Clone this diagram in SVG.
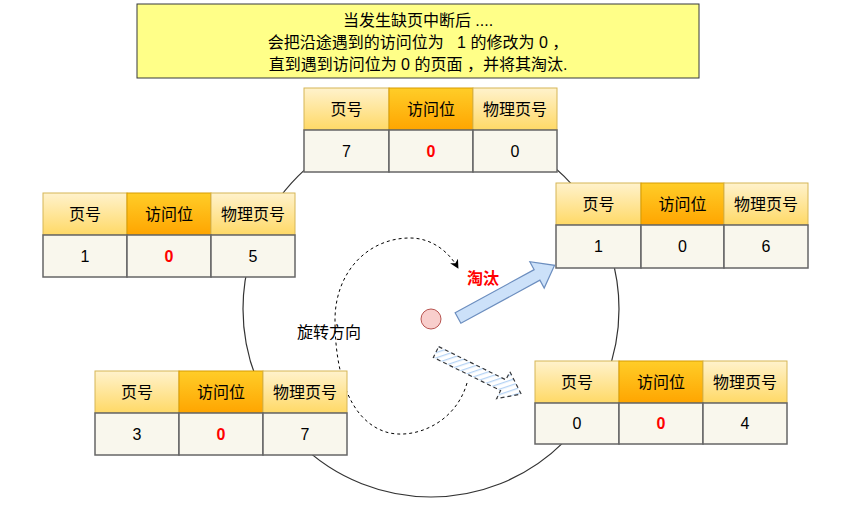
<svg xmlns="http://www.w3.org/2000/svg" width="853" height="510" viewBox="0 0 853 510">
<defs>
<linearGradient id="gY" x1="0" y1="0" x2="0" y2="1"><stop offset="0" stop-color="#fff2cc"/><stop offset="1" stop-color="#ffd966"/></linearGradient>
<linearGradient id="gO" x1="0" y1="0" x2="0" y2="1"><stop offset="0" stop-color="#ffcd28"/><stop offset="1" stop-color="#ffa500"/></linearGradient>
<pattern id="hatch" patternUnits="userSpaceOnUse" width="5" height="5" patternTransform="rotate(45)"><rect width="5" height="5" fill="#ffffff"/><line x1="0" y1="0" x2="0" y2="5" stroke="#b5d3f5" stroke-width="2.5"/></pattern>
<marker id="ah" viewBox="0 0 10 10" refX="9" refY="5" markerWidth="9" markerHeight="9" orient="auto" markerUnits="userSpaceOnUse"><path d="M0,0 L10,5 L0,10 L3,5 Z" fill="#000"/></marker>
</defs>
<style>
text{font-family:"Liberation Sans","Noto Sans CJK SC",sans-serif;font-size:16px;fill:#000;text-anchor:middle;dominant-baseline:central}
.hy{fill:url(#gY);stroke:#d6b656;stroke-width:1}
.ho{fill:url(#gO);stroke:#d79b00;stroke-width:1}
.dc{fill:#f9f7ed;stroke:#666;stroke-width:1.5}
.red{fill:#ff0000;font-weight:bold}
</style>
<circle cx="431" cy="309" r="188" fill="none" stroke="#333" stroke-width="1.2"/>
<g id="note">
<rect x="137" y="4" width="562" height="74" fill="#ffff88" stroke="#36393d" stroke-width="1"/>
<text x="418" y="20">当发生缺页中断后 ....</text>
<text x="418" y="42" xml:space="preserve">会把沿途遇到的访问位为   1 的修改为 0 ，</text>
<text x="418" y="64" xml:space="preserve">直到遇到访问位为 0 的页面 ，并将其淘汰.</text>
</g>
<g id="connectors">
<path d="M467,383 C455,425 412,440 386,432 C348,420 335,370 335,320 C335,272 368,238 410,238 C432,238 449,252 458,268" fill="none" stroke="#000" stroke-width="1" stroke-dasharray="3,3" marker-end="url(#ah)"/>
<path transform="translate(458,318) rotate(-28.6)" d="M0,-6 L90,-6 L90,-15 L110,0 L90,15 L90,6 L0,6 Z" fill="#cce1f9" stroke="#6c8ebf" stroke-width="1.2"/>
<path transform="translate(436,352) rotate(26.3)" d="M0,-6 L75,-6 L75,-15 L95,0 L75,15 L75,6 L0,6 Z" fill="url(#hatch)" stroke="#36393d" stroke-width="1.2" stroke-dasharray="4,3"/>
</g>
<g id="center"><circle cx="431" cy="319" r="10" fill="#f8cecc" stroke="#b85450" stroke-width="1"/></g>
<g id="label-evict"><text x="483" y="278" class="red">淘汰</text></g>
<g id="label-rotate"><text x="329" y="332">旋转方向</text></g>
<g id="t-top" transform="translate(304,88)">
<rect class="hy" x="0" y="0" width="85" height="42"/><rect class="ho" x="85" y="0" width="84" height="42"/><rect class="hy" x="169" y="0" width="84" height="42"/>
<rect class="dc" x="0" y="42" width="85" height="42"/><rect class="dc" x="85" y="42" width="84" height="42"/><rect class="dc" x="169" y="42" width="84" height="42"/>
<text x="42.5" y="21">页号</text><text x="127" y="21">访问位</text><text x="211" y="21">物理页号</text>
<text x="42.5" y="63">7</text><text x="127" y="63" class="red">0</text><text x="211" y="63">0</text>
</g>
<g id="t-left" transform="translate(43,193)">
<rect class="hy" x="0" y="0" width="84" height="42"/><rect class="ho" x="84" y="0" width="84" height="42"/><rect class="hy" x="168" y="0" width="84" height="42"/>
<rect class="dc" x="0" y="42" width="84" height="42"/><rect class="dc" x="84" y="42" width="84" height="42"/><rect class="dc" x="168" y="42" width="84" height="42"/>
<text x="42" y="21">页号</text><text x="126" y="21">访问位</text><text x="210" y="21">物理页号</text>
<text x="42" y="63">1</text><text x="126" y="63" class="red">0</text><text x="210" y="63">5</text>
</g>
<g id="t-right" transform="translate(556,183)">
<rect class="hy" x="0" y="0" width="85" height="42"/><rect class="ho" x="85" y="0" width="83" height="42"/><rect class="hy" x="168" y="0" width="84" height="42"/>
<rect class="dc" x="0" y="42" width="85" height="43"/><rect class="dc" x="85" y="42" width="83" height="43"/><rect class="dc" x="168" y="42" width="84" height="43"/>
<text x="42.5" y="21">页号</text><text x="126.5" y="21">访问位</text><text x="210" y="21">物理页号</text>
<text x="42.5" y="63.5">1</text><text x="126.5" y="63.5">0</text><text x="210" y="63.5">6</text>
</g>
<g id="t-bottom-left" transform="translate(95,371)">
<rect class="hy" x="0" y="0" width="84" height="42"/><rect class="ho" x="84" y="0" width="84" height="42"/><rect class="hy" x="168" y="0" width="84" height="42"/>
<rect class="dc" x="0" y="42" width="84" height="42"/><rect class="dc" x="84" y="42" width="84" height="42"/><rect class="dc" x="168" y="42" width="84" height="42"/>
<text x="42" y="21">页号</text><text x="126" y="21">访问位</text><text x="210" y="21">物理页号</text>
<text x="42" y="63">3</text><text x="126" y="63" class="red">0</text><text x="210" y="63">7</text>
</g>
<g id="t-bottom-right" transform="translate(535,361)">
<rect class="hy" x="0" y="0" width="84" height="42"/><rect class="ho" x="84" y="0" width="84" height="42"/><rect class="hy" x="168" y="0" width="84" height="42"/>
<rect class="dc" x="0" y="42" width="84" height="41"/><rect class="dc" x="84" y="42" width="84" height="41"/><rect class="dc" x="168" y="42" width="84" height="41"/>
<text x="42" y="21">页号</text><text x="126" y="21">访问位</text><text x="210" y="21">物理页号</text>
<text x="42" y="62.5">0</text><text x="126" y="62.5" class="red">0</text><text x="210" y="62.5">4</text>
</g>
</svg>
